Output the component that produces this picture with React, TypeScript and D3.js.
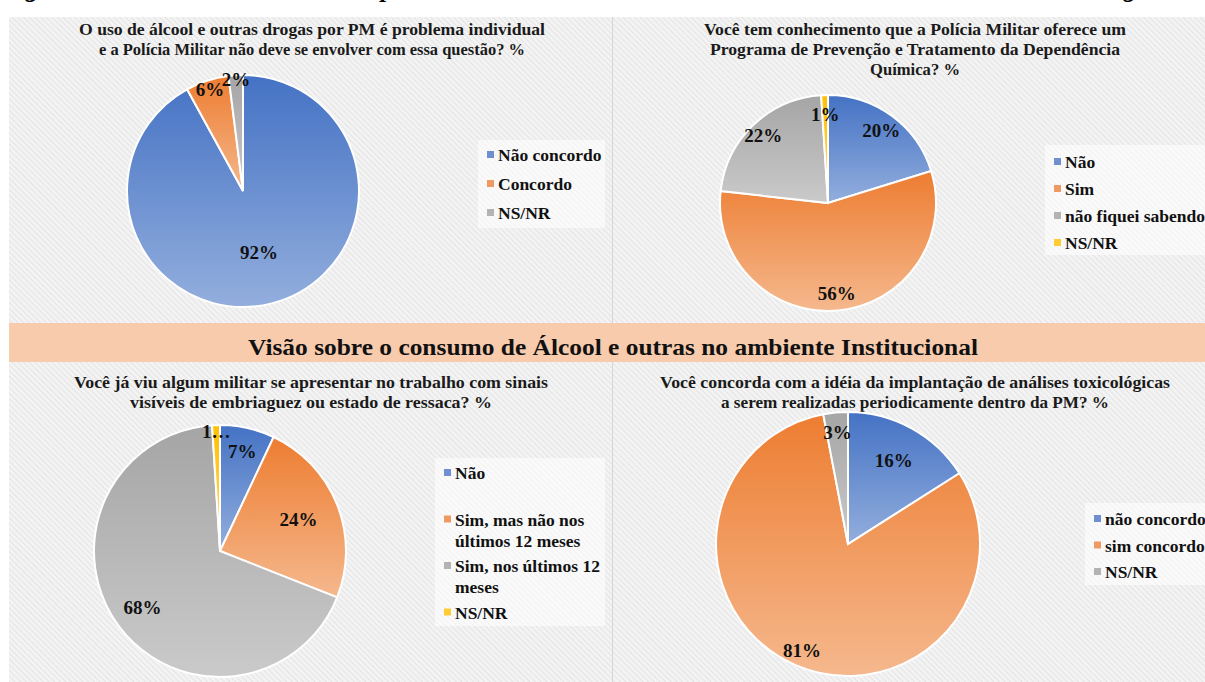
import * as d3 from "d3"

// ---- data ----
const q1Title = [
  "O uso de álcool e outras drogas por PM é problema individual",
  "e a Polícia Militar não deve se envolver com essa questão? %",
]
const q1Categories = ["Não concordo", "Concordo", "NS/NR"]
const q1Values = [92, 6, 2]

const q2Title = [
  "Você tem conhecimento que a Polícia Militar oferece um",
  "Programa de Prevenção e Tratamento da Dependência",
  "Química? %",
]
const q2Categories = ["Não", "Sim", "não fiquei sabendo", "NS/NR"]
const q2Values = [20, 56, 22, 1]

const q3Title = [
  "Você já viu algum militar se apresentar no trabalho com sinais",
  "visíveis de embriaguez ou estado de ressaca? %",
]
const q3Categories = ["Não", "Sim, mas não nos últimos 12 meses", "Sim, nos últimos 12 meses", "NS/NR"]
const q3LegendLines = [["Não"], ["Sim, mas não nos", "últimos 12 meses"], ["Sim, nos últimos 12", "meses"], ["NS/NR"]]
const q3Values = [7, 24, 68, 1]

const q4Title = [
  "Você concorda com a idéia da implantação de análises toxicológicas",
  "a serem realizadas periodicamente dentro da PM? %",
]
const q4Categories = ["não concordo", "sim concordo", "NS/NR"]
const q4Values = [16, 81, 3]

const bannerText = "Visão sobre o consumo de Álcool e outras no ambiente Institucional"

// ---- styling ----
const W = 1205
const H = 682
const serif = "Liberation Serif, DejaVu Serif, serif"
const palette = [
  { id: "blue", top: "#4472C4", bottom: "#93AEDD", key: "#6F8FD0" },
  { id: "orange", top: "#ED7D31", bottom: "#F5B88D", key: "#EF9A62" },
  { id: "gray", top: "#A5A5A5", bottom: "#CACACA", key: "#B3B3B3" },
  { id: "yellow", top: "#FFC000", bottom: "#FFD966", key: "#FFCC33" },
]

type Panel = {
  key: string
  title: string[]
  titleX: number
  titleY: number
  titleWidths: number[]
  categories: string[]
  legendLines?: string[][]
  values: number[]
  cx: number
  cy: number
  r: number
  labelR: number[]
  truncate?: number[]
  legend: { x: number; y: number; w: number; h: number; first: number; step: number }
}

const panels: Panel[] = [
  {
    key: "q1", title: q1Title, titleX: 312, titleY: 35, titleWidths: [466, 426],
    categories: q1Categories, values: q1Values,
    cx: 243, cy: 191, r: 116, labelR: [0.55, 0.92, 0.96],
    legend: { x: 478, y: 140, w: 127, h: 88, first: 155, step: 29 },
  },
  {
    key: "q2", title: q2Title, titleX: 915, titleY: 35, titleWidths: [422, 410, 90],
    categories: q2Categories, values: q2Values,
    cx: 828, cy: 203, r: 108, labelR: [0.83, 0.84, 0.87, 0.82],
    legend: { x: 1045, y: 145, w: 160, h: 110, first: 162, step: 27 },
  },
  {
    key: "q3", title: q3Title, titleX: 311, titleY: 388, titleWidths: [474, 362],
    categories: q3Categories, legendLines: q3LegendLines, values: q3Values,
    cx: 220, cy: 551, r: 126, labelR: [0.81, 0.67, 0.76, 0.95], truncate: [3],
    legend: { x: 435, y: 458, w: 170, h: 168, first: 473, step: 46.5 },
  },
  {
    key: "q4", title: q4Title, titleX: 915, titleY: 388, titleWidths: [510, 388],
    categories: q4Categories, values: q4Values,
    cx: 848, cy: 544, r: 132, labelR: [0.72, 0.88, 0.85],
    legend: { x: 1085, y: 503, w: 120, h: 82, first: 519, step: 26.5 },
  },
]

const pie = d3.pie<number>().sort(null).value((d) => d)

const PiePanel = ({ p }: { p: Panel }) => {
  const arcs = pie(p.values)
  const arc = d3.arc<d3.PieArcDatum<number>>().innerRadius(0).outerRadius(p.r)
  return (
    <g>
      {p.title.map((line, i) => (
        <text
          key={i}
          x={p.titleX}
          y={p.titleY + i * 20}
          textAnchor="middle"
          style={{ fontFamily: serif, fontWeight: 700, fontSize: 16 }}
          textLength={p.titleWidths[i]}
          lengthAdjust="spacingAndGlyphs"
          fill="#1a1a1a"
        >
          {line}
        </text>
      ))}
      <g transform={`translate(${p.cx},${p.cy})`}>
        {arcs.map((a, i) => (
          <path key={i} d={arc(a) || ""} fill={`url(#grad-${palette[i].id})`} stroke="#fff" strokeWidth={2} />
        ))}
        {arcs.map((a, i) => {
          const mid = (a.startAngle + a.endAngle) / 2
          const rr = p.r * p.labelR[i]
          const txt = p.truncate && p.truncate.includes(i) ? `${a.data}…` : `${a.data}%`
          return (
            <text
              key={"l" + i}
              x={Math.sin(mid) * rr}
              y={-Math.cos(mid) * rr}
              textAnchor="middle"
              dominantBaseline="central"
              style={{ fontFamily: serif, fontWeight: 700, fontSize: 19 }}
              fill="#111"
            >
              {txt}
            </text>
          )
        })}
      </g>
      <rect x={p.legend.x} y={p.legend.y} width={p.legend.w} height={p.legend.h} fill="#fff" opacity={0.55} />
      {p.categories.map((c, i) => {
        const lines = p.legendLines ? p.legendLines[i] : [c]
        const y = p.legend.first + i * p.legend.step
        return (
          <g key={"k" + i}>
            <rect x={p.legend.x + 9} y={y - 4} width={7} height={7} fill={palette[i].key} />
            {lines.map((ln, j) => (
              <text
                key={j}
                x={p.legend.x + 20}
                y={y + j * 21}
                dominantBaseline="central"
                style={{ fontFamily: serif, fontWeight: 700, fontSize: 17.5 }}
                fill="#111"
              >
                {ln}
              </text>
            ))}
          </g>
        )
      })}
    </g>
  )
}

export default function App() {
  return (
    <svg width={W} height={H} style={{ position: "absolute", left: 0, top: 0, background: "#fff" }}>
      <defs>
        <pattern id="hatch" width={4} height={4} patternUnits="userSpaceOnUse" patternTransform="rotate(-45)">
          <rect width={4} height={4} fill="#f3f3f3" />
          <line x1={0} y1={0} x2={0} y2={4} stroke="#dedede" strokeWidth={1.4} />
        </pattern>
        {palette.map((c) => (
          <linearGradient key={c.id} id={`grad-${c.id}`} x1="0" y1="0" x2="0" y2="1">
            <stop offset="0%" stopColor={c.top} />
            <stop offset="100%" stopColor={c.bottom} />
          </linearGradient>
        ))}
      </defs>

      {/* caption of the page above the figure, cut off at the top edge as in the source */}
      <text y={-3} style={{ fontFamily: serif, fontWeight: 700, fontStyle: "italic", fontSize: 26 }} fill="#000">
        <tspan x={26}>g</tspan>
        <tspan x={381}>p</tspan>
        <tspan x={1124}>g</tspan>
      </text>

      <rect x={9} y={17} width={W - 9} height={H - 17} fill="url(#hatch)" />
      <line x1={612.5} y1={17} x2={612.5} y2={323} stroke="#d6d6d6" />
      <line x1={612.5} y1={362} x2={612.5} y2={H} stroke="#d6d6d6" />

      {panels.map((p) => (
        <PiePanel key={p.key} p={p} />
      ))}

      <rect x={9} y={323} width={W - 9} height={39} fill="#F8CBAD" />
      <text
        x={613}
        y={355}
        textAnchor="middle"
        style={{ fontFamily: serif, fontWeight: 700, fontSize: 24 }}
        textLength={730}
        lengthAdjust="spacingAndGlyphs"
        fill="#111"
      >
        {bannerText}
      </text>
    </svg>
  )
}
